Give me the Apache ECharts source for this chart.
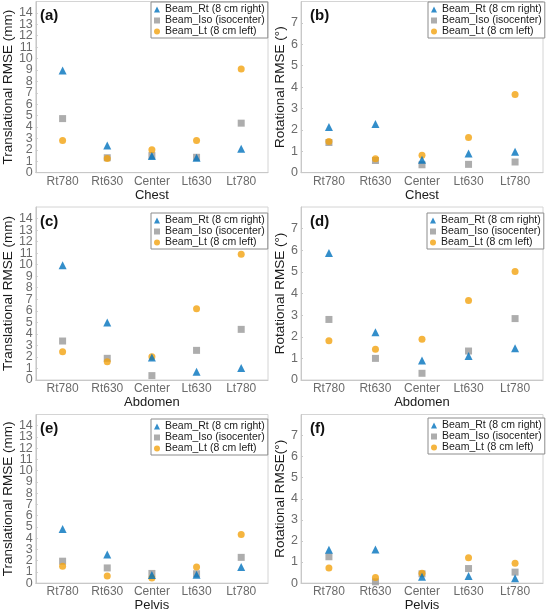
<!DOCTYPE html>
<html>
<head>
<meta charset="utf-8">
<script src="https://cdn.jsdelivr.net/npm/echarts@6/dist/echarts.min.js"></script>
<style>
  html, body { margin: 0; padding: 0; background: #fff; }
  #chart { width: 546px; height: 613px; }
</style>
</head>
<body>
<div id="chart"></div>
<script>
const positions = ['Rt780', 'Rt630', 'Center', 'Lt630', 'Lt780']
const beamNames = ['Beam_Rt (8 cm right)', 'Beam_Iso (isocenter)', 'Beam_Lt (8 cm left)']

// chest
const chestTransRt = [8.95, 2.39, 1.46, 1.31, 2.1]
const chestTransIso = [4.74, 1.31, 1.5, 1.35, 4.34]
const chestTransLt = [2.82, 1.24, 2.0, 2.82, 9.08]
const chestRotRt = [2.13, 2.28, 0.6, 0.9, 0.98]
const chestRotIso = [1.41, 0.57, 0.37, 0.39, 0.5]
const chestRotLt = [1.46, 0.65, 0.81, 1.65, 3.66]
// abdomen
const abdTransRt = [9.96, 4.99, 1.96, 0.72, 1.04]
const abdTransIso = [3.38, 1.88, 0.38, 2.57, 4.39]
const abdTransLt = [2.45, 1.59, 2.02, 6.18, 10.91]
const abdRotRt = [5.87, 2.21, 0.9, 1.11, 1.47]
const abdRotIso = [2.8, 1.0, 0.31, 1.34, 2.84]
const abdRotLt = [1.81, 1.42, 1.89, 3.68, 5.02]
// pelvis
const pelTransRt = [4.82, 2.55, 0.72, 0.75, 1.43]
const pelTransIso = [1.95, 1.35, 0.86, 0.83, 2.29]
const pelTransLt = [1.49, 0.63, 0.46, 1.43, 4.33]
const pelRotRt = [1.58, 1.59, 0.3, 0.34, 0.23]
const pelRotIso = [1.25, 0.06, 0.44, 0.69, 0.52]
const pelRotLt = [0.72, 0.27, 0.47, 1.2, 0.94]

const FONT = 'Liberation Sans, Arial, sans-serif'
const colors = { rt: '#0072BD', iso: '#999999', lt: '#F2A30F' }

const panels = [
  { tag: '(a)', site: 'Chest', yName: 'Translational RMSE (mm)', yMax: 15, rt: chestTransRt, iso: chestTransIso, lt: chestTransLt },
  { tag: '(b)', site: 'Chest', yName: 'Rotational RMSE (°)', yMax: 8, rt: chestRotRt, iso: chestRotIso, lt: chestRotLt },
  { tag: '(c)', site: 'Abdomen', yName: 'Translational RMSE (mm)', yMax: 15, rt: abdTransRt, iso: abdTransIso, lt: abdTransLt },
  { tag: '(d)', site: 'Abdomen', yName: 'Rotational RMSE (°)', yMax: 8, rt: abdRotRt, iso: abdRotIso, lt: abdRotLt },
  { tag: '(e)', site: 'Pelvis', yName: 'Translational RMSE (mm)', yMax: 15, rt: pelTransRt, iso: pelTransIso, lt: pelTransLt },
  { tag: '(f)', site: 'Pelvis', yName: 'Rotational RMSE(°)', yMax: 8, rt: pelRotRt, iso: pelRotIso, lt: pelRotLt }
]

// layout of the 3x2 panels
const colLeft = [31, 301]
const colWidth = [237, 242]
const rowTop = [1.5, 207, 414.5]
const rowHeight = [171.2, 173, 172.2]
const legendPos = [[151, 2], [428, 2], [151, 213], [427, 213], [151, 419], [428, 418]]

const toPoints = arr => arr.map((v, i) => [i + 1, v])
const tickLabel = { fontSize: 12.5, color: '#6b6b6b', margin: 3, fontFamily: FONT }

const option = {
  animation: false,
  textStyle: { fontFamily: FONT },
  title: [],
  legend: [],
  grid: [],
  xAxis: [],
  yAxis: [],
  series: []
}

panels.forEach((p, i) => {
  const col = i % 2
  const row = Math.floor(i / 2)
  const ticks = Array.from({ length: p.yMax }, (_, k) => k)
  option.grid.push({
    left: colLeft[col],
    top: rowTop[row],
    width: colWidth[col],
    height: rowHeight[row],
    show: true,
    borderColor: '#d4d4d4',
    borderWidth: 1
  })
  option.title.push({
    text: p.tag,
    left: colLeft[col] + 9,
    top: rowTop[row] + 7,
    padding: 0,
    textStyle: { fontSize: 15, fontWeight: 'bold', color: '#111', fontFamily: FONT }
  })
  option.legend.push({
    left: legendPos[i][0],
    top: legendPos[i][1],
    orient: 'vertical',
    data: beamNames,
    selectedMode: false,
    backgroundColor: '#fff',
    borderColor: '#8c8c8c',
    borderWidth: 1,
    padding: [2, 3, 1, 3],
    itemGap: 0,
    itemWidth: 6,
    itemHeight: 6,
    textStyle: { fontSize: 10.5, lineHeight: 10.7, color: '#1a1a1a', fontFamily: FONT }
  })
  option.xAxis.push({
    gridIndex: i,
    type: 'value',
    min: 0.4,
    max: 5.6,
    name: p.site,
    nameLocation: 'middle',
    nameGap: 12,
    nameTextStyle: { fontSize: 13, color: '#1a1a1a', fontFamily: FONT },
    axisLine: { show: true, lineStyle: { color: '#c8c8c8' } },
    axisTick: { show: false },
    splitLine: { show: false },
    axisLabel: {
      ...tickLabel,
      fontSize: 12,
      customValues: [1, 2, 3, 4, 5],
      formatter: v => positions[Math.round(v) - 1]
    }
  })
  // even tick labels + axis line/name (carries the data)
  option.yAxis.push({
    gridIndex: i,
    type: 'value',
    min: 0,
    max: p.yMax,
    interval: 1,
    name: p.yName,
    nameLocation: 'middle',
    nameGap: col === 0 ? 16 : 13,
    nameTextStyle: { fontSize: 13.5, color: '#1a1a1a', fontFamily: FONT },
    axisLine: { show: true, lineStyle: { color: '#c8c8c8' } },
    axisTick: { show: true, inside: true, length: 2, customValues: ticks, lineStyle: { color: '#c8c8c8' } },
    splitLine: { show: false },
    axisLabel: { ...tickLabel, customValues: ticks.filter(v => v % 2 === 0) }
  })
  // odd tick labels on a twin axis so ECharts does not drop crowded end labels
  option.yAxis.push({
    gridIndex: i,
    type: 'value',
    position: 'left',
    min: 0,
    max: p.yMax,
    interval: 1,
    axisLine: { show: false },
    axisTick: { show: false },
    splitLine: { show: false },
    axisLabel: { ...tickLabel, customValues: ticks.filter(v => v % 2 === 1) }
  })
  option.series.push(
    {
      name: beamNames[0], type: 'scatter', xAxisIndex: i, yAxisIndex: 2 * i, z: 4,
      symbol: 'triangle', symbolSize: 8,
      itemStyle: { color: colors.rt },
      data: toPoints(p.rt)
    },
    {
      name: beamNames[1], type: 'scatter', xAxisIndex: i, yAxisIndex: 2 * i, z: 2,
      symbol: 'rect', symbolSize: 7,
      itemStyle: { color: colors.iso },
      data: toPoints(p.iso)
    },
    {
      name: beamNames[2], type: 'scatter', xAxisIndex: i, yAxisIndex: 2 * i, z: 3,
      symbol: 'circle', symbolSize: 7,
      itemStyle: { color: colors.lt },
      data: toPoints(p.lt)
    }
  )
})

const chart = echarts.init(document.getElementById('chart'))
chart.setOption(option)
</script>
</body>
</html>
